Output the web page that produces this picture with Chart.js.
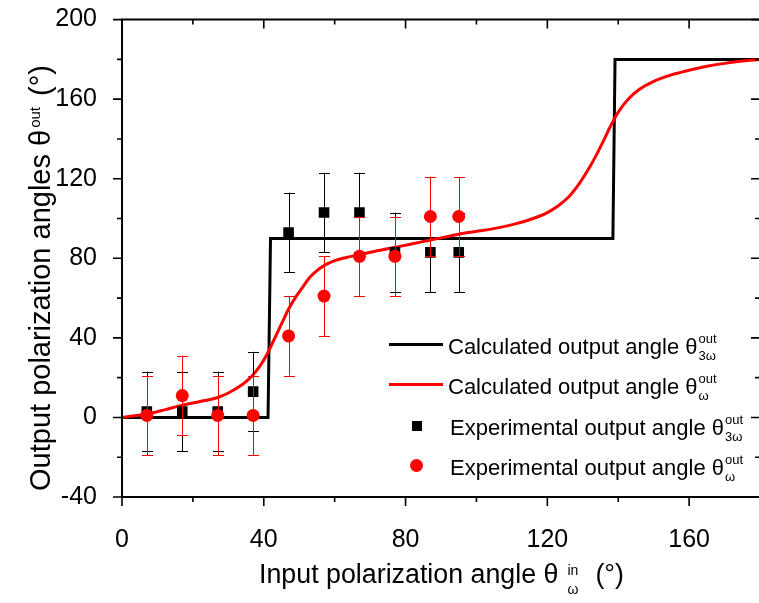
<!DOCTYPE html>
<html><head><meta charset="utf-8">
<script src="https://cdn.jsdelivr.net/npm/chart.js@4/dist/chart.umd.min.js"></script>
<style>
html,body{margin:0;padding:0;overflow:hidden;background:#fff;width:759px;height:603px}
#wrap{position:relative;width:780px;height:603px}
canvas{display:block}
.t{position:absolute;font-family:"Liberation Sans",Arial,sans-serif;color:#000;white-space:nowrap}
.ss{display:inline-block;text-align:left}
.lg{font-size:22px;line-height:26px}
.lg .ss{font-size:13px;line-height:16.5px;vertical-align:-6px;margin-left:1px}
.sw{position:absolute;height:3px}
</style></head><body>
<div id="wrap">
<canvas id="c" width="780" height="603"></canvas>
<div class="t" id="ytitle" style="left:-215px;top:263px;width:500px;text-align:center;font-size:29px;line-height:30px;transform:rotate(-90deg);transform-origin:250px 15px">Output polarization angles θ<span style="font-size:15px;vertical-align:10px;margin-left:2px;margin-right:3px">out</span> (°)</div>
<div class="t" id="xtitle" style="left:259px;top:559px;font-size:26.8px;line-height:30px">Input polarization angle θ<span class="ss" style="font-size:14px;line-height:19.5px;vertical-align:-11px;margin-left:9px;margin-right:17px">in<br>ω</span>(°)</div>
<div class="sw" style="left:389px;top:342.5px;width:54px;background:#000"></div>
<div class="t lg" style="left:448px;top:331px">Calculated output angle θ<span class="ss">out<br>3ω</span></div>
<div class="sw" style="left:389px;top:382.5px;width:54px;background:#ff0000"></div>
<div class="t lg" style="left:448px;top:371px">Calculated output angle θ<span class="ss">out<br>ω</span></div>
<div style="position:absolute;left:411.5px;top:420.5px;width:10.5px;height:10.5px;background:#000"></div>
<div class="t lg" style="left:450px;top:412px">Experimental output angle θ<span class="ss">out<br>3ω</span></div>
<div style="position:absolute;left:410.2px;top:459px;width:13px;height:13px;border-radius:50%;background:#ff0000"></div>
<div class="t lg" style="left:450px;top:452px">Experimental output angle θ<span class="ss">out<br>ω</span></div>
</div>
<script>
// ---- data ----
const xExp = [7, 17, 27, 37, 47, 57, 67, 77, 87, 95];
const yExp3w = [3, 3, 3, 13, 93, 103, 103, 83, 83, 83];
const err3w = [20, 20, 20, 20, 20, 20, 20, 20, 20, 20];
const yExpW = [1, 11, 1, 1, 41, 61, 81, 81, 101, 101];
const errW = [20, 20, 20, 20, 20, 20, 20, 20, 20, 20];
const xCalc3w = [0, 41.2, 41.9, 138.5, 139.1, 180];
const yCalc3w = [0, 0, 90, 90, 180, 180];
const xCalcW = [0, 3, 7, 12, 17, 22, 27, 30, 33, 35, 37, 39, 41, 43, 45, 47, 49, 51, 53, 55, 57, 60, 63, 67, 72, 77, 82, 87, 92, 96, 101, 106, 111, 116, 120, 123, 126, 129, 132, 134, 136, 138, 140, 143, 146, 150, 155, 160, 165, 170, 175, 180];
const yCalcW = [0, 0.7, 1.7, 3.8, 6.2, 8, 10, 12.3, 15.4, 18, 21.5, 26, 32, 39.5, 47, 54.5, 60.5, 65.5, 70.5, 73.8, 76.3, 78.8, 80.3, 81.8, 83.8, 85.5, 87.3, 89.2, 91, 92.5, 93.8, 95.3, 97.3, 100, 103, 106.3, 110.8, 117.5, 126, 132.5, 139.7, 147, 153.5, 160.3, 165, 169, 172.2, 174.5, 176.5, 178, 179.2, 180];
const xTickLabels = [0, 40, 80, 120, 160];
const yTickLabels = [-40, 0, 40, 80, 120, 160, 200];

const pts = (xs, ys) => xs.map((x, i) => ({x: x, y: ys[i]}));

const errorBars = {
  id: 'errorBars',
  beforeDatasetDraw(chart, args) {
    const ds = chart.data.datasets[args.index];
    if (!ds.errors) return;
    const ctx = chart.ctx, xs = chart.scales.x, ys = chart.scales.y;
    ctx.save();
    ctx.strokeStyle = ds.errorColor;
    ctx.lineWidth = 1;
    ds.data.forEach((p, i) => {
      const e = ds.errors[i];
      const px = Math.round(xs.getPixelForValue(p.x)) + 0.5;
      const y1 = ys.getPixelForValue(p.y - e), y2 = ys.getPixelForValue(p.y + e);
      ctx.beginPath();
      ctx.moveTo(px, y1); ctx.lineTo(px, y2);
      ctx.moveTo(px - 5.5, Math.round(y1) + 0.5); ctx.lineTo(px + 5.5, Math.round(y1) + 0.5);
      ctx.moveTo(px - 5.5, Math.round(y2) + 0.5); ctx.lineTo(px + 5.5, Math.round(y2) + 0.5);
      ctx.stroke();
    });
    ctx.restore();
  }
};

const frame = {
  id: 'frame',
  afterDraw(chart) {
    const ctx = chart.ctx, a = chart.chartArea, xs = chart.scales.x, ys = chart.scales.y;
    ctx.save();
    ctx.strokeStyle = '#000';
    ctx.lineWidth = 2;
    ctx.beginPath();
    ctx.rect(a.left, a.top, a.right - a.left, a.bottom - a.top);
    ctx.stroke();
    ctx.lineWidth = 1.6;
    ctx.beginPath();
    for (let v = 0; v <= 180; v += 20) {
      const px = xs.getPixelForValue(v);
      const L = (v % 40 === 0) ? 9 : 5;
      ctx.moveTo(px, a.bottom); ctx.lineTo(px, a.bottom + L);
      ctx.moveTo(px, a.top); ctx.lineTo(px, a.top + L);
    }
    for (let v = -40; v <= 200; v += 20) {
      const py = ys.getPixelForValue(v);
      const L = (v % 40 === 0) ? 9 : 5;
      ctx.moveTo(a.left, py); ctx.lineTo(a.left - L, py);
      ctx.moveTo(a.right, py); ctx.lineTo(a.right - L, py);
    }
    ctx.stroke();
    ctx.restore();
  }
};

const tickFontX = {family: '"Liberation Sans", Arial, sans-serif', size: 25};
const tickFontY = {family: '"Liberation Sans", Arial, sans-serif', size: 25, lineHeight: 0.1};

new Chart(document.getElementById('c'), {
  type: 'scatter',
  data: {
    datasets: [
      {label: 'Experimental output angle ω', data: pts(xExp, yExpW), errors: errW, errorColor: '#ff0000',
       pointStyle: 'circle', pointRadius: 6.5, pointBackgroundColor: '#ff0000', pointBorderWidth: 0, showLine: false},
      {label: 'Experimental output angle 3ω', data: pts(xExp, yExp3w), errors: err3w, errorColor: '#000000',
       pointStyle: 'rect', pointRadius: 7.5, pointBackgroundColor: '#000000', pointBorderWidth: 0, showLine: false},
      {label: 'Calculated output angle ω', data: pts(xCalcW, yCalcW), showLine: true, borderColor: '#ff0000',
       borderWidth: 3, pointRadius: 0, cubicInterpolationMode: 'monotone'},
      {label: 'Calculated output angle 3ω', data: pts(xCalc3w, yCalc3w), showLine: true, borderColor: '#000000',
       borderWidth: 3, pointRadius: 0, tension: 0}
    ]
  },
  options: {
    responsive: false,
    animation: false,
    devicePixelRatio: 1,
    layout: {padding: {top: 19.6, right: 14.5, left: 0, bottom: 0}, autoPadding: false},
    plugins: {legend: {display: false}, tooltip: {enabled: false}},
    scales: {
      x: {type: 'linear', position: 'bottom', min: 0, max: 180,
          grid: {display: false}, border: {display: false},
          ticks: {stepSize: 40, padding: 20, color: '#000', font: tickFontX, maxRotation: 0,
                  callback: v => xTickLabels.includes(v) ? String(v) : ''},
          afterFit: s => { s.height = 106; }},
      y: {type: 'linear', position: 'left', min: -40, max: 200,
          grid: {display: false}, border: {display: false},
          ticks: {stepSize: 40, padding: 17, color: '#000', font: tickFontY,
                  callback: v => yTickLabels.includes(v) ? String(v) : ''},
          afterFit: s => { s.width = 122; }}
    }
  },
  plugins: [errorBars, frame]
});
</script>
</body></html>
